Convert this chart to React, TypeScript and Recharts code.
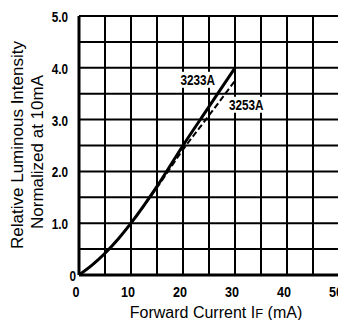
import { LineChart, Line, XAxis, YAxis, CartesianGrid, Label } from 'recharts'

const currentMA = [0, 2.5, 5, 7.5, 10, 15, 20, 25, 30]
const lum3233A = [0, 0.19, 0.42, 0.69, 1.0, 1.71, 2.5, 3.25, 4.0]
const lum3253A = [0, 0.19, 0.42, 0.69, 1.0, 1.69, 2.42, 3.08, 3.75]
const xTicks = [0, 5, 10, 15, 20, 25, 30, 35, 40, 45, 50]
const yTicks = [0, 0.5, 1, 1.5, 2, 2.5, 3, 3.5, 4, 4.5, 5]

const data = currentMA.map((x, i) => ({ x, a: lum3233A[i], b: lum3253A[i] }))

const TICK_FONT = "'Liberation Sans', Arial, sans-serif"
const TITLE_FONT = "'Liberation Sans', Arial, sans-serif"

// condensed bold text, squeezed horizontally like the printed datasheet
const Narrow = ({ x, y, anchor, size, children }: any) => (
    <text
        transform={`translate(${x},${y}) scale(0.84,1)`}
        textAnchor={anchor}
        fontFamily={TICK_FONT}
        fontWeight="bold"
        fontSize={size}
        fill="#000"
    >
        {children}
    </text>
)

const XTick = ({ x, y, payload }: any) => {
    if (payload.value % 10 !== 0) return null
    return (
        <Narrow x={x - 3} y={y + 14} anchor="middle" size={15}>
            {payload.value}
        </Narrow>
    )
}

const YTick = ({ x, y, payload }: any) => {
    const v = payload.value
    if (v % 1 !== 0) return null
    const zero = v === 0
    return (
        <Narrow x={zero ? x + 5 : x - 3} y={y + 6} anchor="end" size={14}>
            {zero ? '0' : v.toFixed(1)}
        </Narrow>
    )
}

const endLabel = (name: string, lastIndex: number, dx: number, dy: number, anchor: 'start' | 'end') => (props: any) => {
    if (props.index !== lastIndex) return null
    const tx = props.x + dx
    const ty = props.y + dy
    const w = 38
    const rx = anchor === 'end' ? tx - w + 1 : tx - 2
    return (
        <g>
            <rect x={rx} y={ty - 13} width={w} height={16} fill="#fff" />
            <Narrow x={tx} y={ty} anchor={anchor} size={14}>
                {name}
            </Narrow>
        </g>
    )
}

export default function App() {
    const last = data.length - 1
    return (
        <div style={{ position: 'absolute', left: 0, top: 0, width: 338, height: 320, overflow: 'hidden', background: '#fff' }}>
            <LineChart width={342} height={320} data={data} margin={{ top: 16, right: 3, bottom: 0, left: 0 }}>
                <CartesianGrid stroke="#000" strokeWidth={2} horizontalValues={yTicks} verticalValues={xTicks} />
                <XAxis
                    dataKey="x"
                    type="number"
                    domain={[0, 50]}
                    ticks={xTicks}
                    height={45}
                    tickLine={false}
                    axisLine={{ stroke: '#000', strokeWidth: 3 }}
                    tick={<XTick />}
                    interval={0}
                >
                    <Label
                        content={() => (
                            <text x={216} y={318} textAnchor="middle" fontFamily={TITLE_FONT} fontSize={16} fill="#000">
                                Forward Current I<tspan fontSize={13}>F</tspan> (mA)
                            </text>
                        )}
                    />
                </XAxis>
                <YAxis
                    type="number"
                    domain={[0, 5]}
                    ticks={yTicks}
                    width={79}
                    tickLine={false}
                    axisLine={{ stroke: '#000', strokeWidth: 3 }}
                    tick={<YTick />}
                    interval={0}
                >
                    <Label
                        content={() => (
                            <g fontFamily={TITLE_FONT} fontSize={17} fill="#000">
                                <text transform="translate(23,145) rotate(-90)" textAnchor="middle">
                                    Relative Luminous Intensity
                                </text>
                                <text transform="translate(43,152) rotate(-90)" textAnchor="middle">
                                    Normalized at 10mA
                                </text>
                            </g>
                        )}
                    />
                </YAxis>
                <Line
                    type="monotone"
                    dataKey="b"
                    stroke="#000"
                    strokeWidth={2}
                    strokeDasharray="6 3"
                    dot={false}
                    isAnimationActive={false}
                    label={endLabel('3253A', last, -6, 29, 'start')}
                />
                <Line
                    type="monotone"
                    dataKey="a"
                    stroke="#000"
                    strokeWidth={3}
                    dot={false}
                    isAnimationActive={false}
                    label={endLabel('3233A', last, -20, 17, 'end')}
                />
            </LineChart>
        </div>
    )
}
